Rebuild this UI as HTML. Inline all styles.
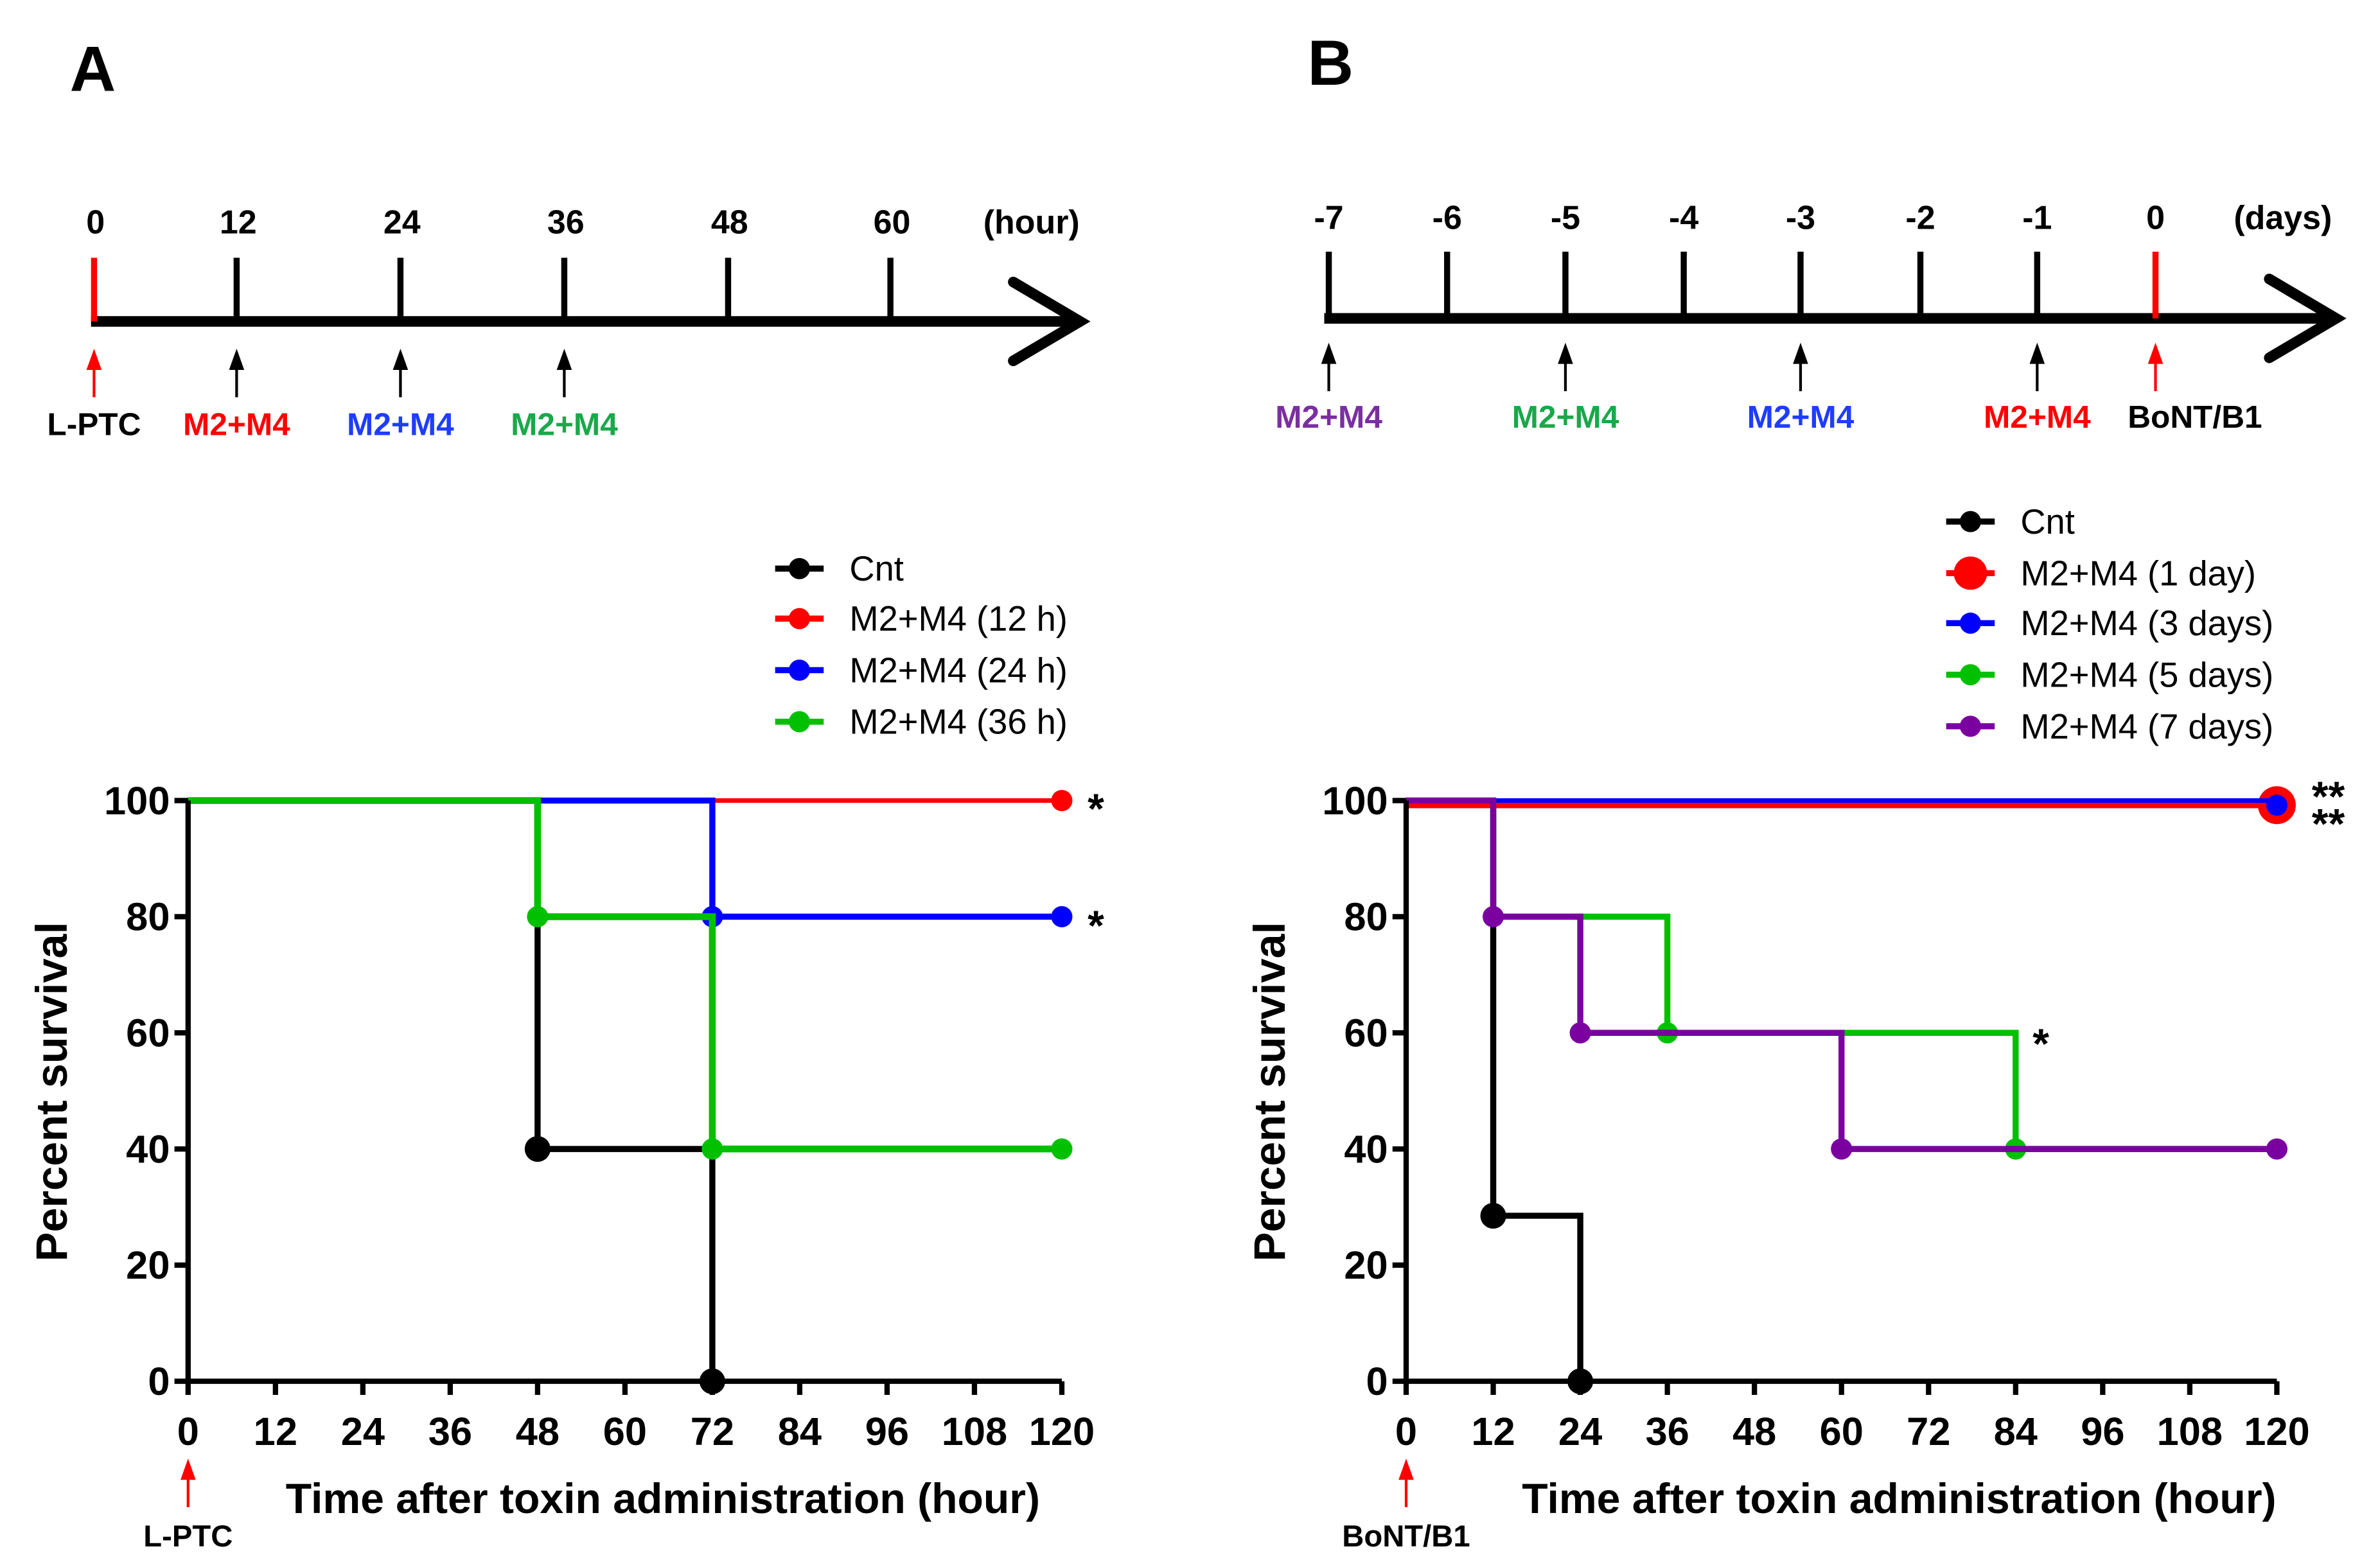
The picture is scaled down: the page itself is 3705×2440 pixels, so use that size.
<!DOCTYPE html>
<html><head><meta charset="utf-8"><style>
html,body{margin:0;padding:0;background:#fff}
svg{display:block}
text{font-family:"Liberation Sans",Arial,sans-serif;font-weight:bold}
</style></head><body>
<svg id="fig" width="3705" height="2440" viewBox="0 0 1569 1033.5" preserveAspectRatio="none" xmlns="http://www.w3.org/2000/svg">
<text x="46" y="60" font-size="42">A</text>
<text x="862" y="56" font-size="42">B</text>
<g id="gA"></g>
<g id="gB"></g>
</svg>
<script>
const NS='http://www.w3.org/2000/svg';
// ---- data ----
const xTicks=[0,12,24,36,48,60,72,84,96,108,120];
const yTicks=[0,20,40,60,80,100];
const tlA=['0','12','24','36','48','60'];
const tlB=['-7','-6','-5','-4','-3','-2','-1','0'];
// Panel A step series: times and survival values
const aCntT=[0,48,72], aCntV=[100,40,0];
const aR12T=[0,120], aR12V=[100,100];
const aB24T=[0,72,120], aB24V=[100,80,80];
const aG36T=[0,48,72,120], aG36V=[100,80,40,40];
// Panel B
const bCntT=[0,12,24], bCntV=[100,28.5,0];
const bD1T=[0,120], bD1V=[99.2,99.2];
const bD3T=[0,120], bD3V=[100,100];
const bD5T=[0,12,36,84,120], bD5V=[100,80,60,40,40];
const bD7T=[0,12,24,60,120], bD7V=[100,80,60,40,40];

function el(p,tag,attrs,txt){const e=document.createElementNS(NS,tag);for(const k in attrs)e.setAttribute(k,attrs[k]);if(txt!==undefined)e.textContent=txt;p.appendChild(e);return e;}

function chart(g,x0,x1,series,stars){
  const y0=911,y1=528;
  const X=t=>x0+(x1-x0)*t/120, Y=v=>y0+(y1-y0)*v/100;
  series.forEach(s=>{
    let d='M'+X(s.t[0])+','+Y(s.v[0]);
    for(let i=1;i<s.t.length;i++){d+=' H'+X(s.t[i])+' V'+Y(s.v[i]);}
    const p=el(g,'path',{d:d,fill:'none',stroke:s.c,'stroke-width':s.w||4});
    
    
    s.m.forEach(i=>{
      const c=el(g,'circle',{cx:X(s.t[i]),cy:Y(s.v[i]),r:s.r||7,fill:s.c});
      
      
      if(s.inner){const c2=el(g,'circle',{cx:X(s.t[i]),cy:Y(s.v[i]),r:7,fill:s.inner});
        
        }
    });
  });
  const ax=el(g,'path',{d:`M${x0},${y1} V${y0} H${x1}`,fill:'none',stroke:'#000','stroke-width':3.5});
  
  
  yTicks.forEach(v=>{
    el(g,'line',{x1:x0-9,x2:x0,y1:Y(v),y2:Y(v),stroke:'#000','stroke-width':3.5});
    const t=el(g,'text',{x:x0-12,y:Y(v)+9,'font-size':26,'text-anchor':'end'},String(v));
    
    
  });
  xTicks.forEach(v=>{
    el(g,'line',{x1:X(v),x2:X(v),y1:y0,y2:y0+9,stroke:'#000','stroke-width':3.5});
    const t=el(g,'text',{x:X(v),y:y0+42,'font-size':26,'text-anchor':'middle'},String(v));
    
    
  });
  stars.forEach(s=>{const t=el(g,'text',{x:s[0],y:s[1],'font-size':28},s[2]);
    
    });
  const yt=el(g,'text',{x:0,y:0,'font-size':29,'text-anchor':'middle',transform:`translate(${x0-80},720) rotate(-90)`},'Percent survival');
  
  
}

function arrow(g,x,yTop,yBot,c){
  el(g,'line',{x1:x,x2:x,y1:yTop+12,y2:yBot,stroke:c,'stroke-width':1.8});
  el(g,'polygon',{points:`${x-5},${yTop+14} ${x},${yTop} ${x+5},${yTop+14}`,fill:c});
}

function legend(g,x,ys,items){
  items.forEach((it,i)=>{
    el(g,'line',{x1:x-16,x2:x+16,y1:ys[i],y2:ys[i],stroke:it.c,'stroke-width':4});
    el(g,'circle',{cx:x,cy:ys[i],r:it.r||7,fill:it.c});
    const t=el(g,'text',{x:x+33,y:ys[i]+8,'font-size':23,style:'font-weight:normal'},it.l);
    
    
  });
}

const gA=document.getElementById('gA'), gB=document.getElementById('gB');
(function(){
  const xs=[62,156,264,372,480,587];
  el(gA,'line',{x1:60,x2:710,y1:212,y2:212,stroke:'#000','stroke-width':7});
  el(gA,'polyline',{points:'668,186 712,212 668,238',fill:'none',stroke:'#000','stroke-width':7,'stroke-linecap':'round'});
  xs.forEach((x,i)=>{el(gA,'line',{x1:x,x2:x,y1:170,y2:212,stroke:i==0?'#f00':'#000','stroke-width':4});
    const t=el(gA,'text',{x:x+1,y:154,'font-size':22,'text-anchor':'middle'},tlA[i]);
    
    });
  el(gA,'text',{x:680,y:154,'font-size':22,'text-anchor':'middle'},'(hour)');
  const ar=[[62,'#f00','L-PTC','#000'],[156,'#000','M2+M4','#f00'],[264,'#000','M2+M4','#1f3cff'],[372,'#000','M2+M4','#1aa84a']];
  ar.forEach(a=>{arrow(gA,a[0],230,262,a[1]);el(gA,'text',{x:a[0],y:287,'font-size':21,'text-anchor':'middle',fill:a[3]},a[2]);});
})();
(function(){
  const xs=[876,954,1032,1110,1187,1266,1343,1421];
  el(gB,'line',{x1:873,x2:1538,y1:210,y2:210,stroke:'#000','stroke-width':7});
  el(gB,'polyline',{points:'1496,184 1540,210 1496,236',fill:'none',stroke:'#000','stroke-width':7,'stroke-linecap':'round'});
  xs.forEach((x,i)=>{el(gB,'line',{x1:x,x2:x,y1:166,y2:210,stroke:i==7?'#f00':'#000','stroke-width':4});
    const t=el(gB,'text',{x:x,y:151,'font-size':22,'text-anchor':'middle'},tlB[i]);
    
    });
  el(gB,'text',{x:1505,y:151,'font-size':22,'text-anchor':'middle'},'(days)');
  const ar=[[876,'#000','M2+M4','#7a2fa0'],[1032,'#000','M2+M4','#1aa84a'],[1187,'#000','M2+M4','#1f3cff'],[1343,'#000','M2+M4','#f00'],[1421,'#f00','BoNT/B1','#000']];
  ar.forEach(a=>{arrow(gB,a[0],226,258,a[1]);el(gB,'text',{x:a[0]+(a[2]=='BoNT/B1'?26:0),y:282,'font-size':21,'text-anchor':'middle',fill:a[3]},a[2]);});
})();

legend(gA,527,[375,408,442,476],[{c:'#000',l:'Cnt'},{c:'#f00',l:'M2+M4 (12 h)'},{c:'#00f',l:'M2+M4 (24 h)'},{c:'#00c000',l:'M2+M4 (36 h)'}]);
legend(gB,1299,[344,378,411,445,479],[{c:'#000',l:'Cnt'},{c:'#f00',l:'M2+M4 (1 day)',r:11},{c:'#00f',l:'M2+M4 (3 days)'},{c:'#00c000',l:'M2+M4 (5 days)'},{c:'#7b00a0',l:'M2+M4 (7 days)'}]);

chart(gA,124,700,[
  {n:'cnt',t:aCntT,v:aCntV,c:'#000',m:[1,2],r:8.5},
  {n:'m12h',t:aR12T,v:aR12V,c:'#f00',m:[1],w:3},
  {n:'m24h',t:aB24T,v:aB24V,c:'#00f',m:[1,2]},
  {n:'m36h',t:aG36T,v:aG36V,c:'#00c000',m:[1,2,3],w:4.5}
],[[717,543,'*'],[717,620,'*']]);
chart(gB,927,1501,[
  {n:'cnt',t:bCntT,v:bCntV,c:'#000',m:[1,2],r:8.5},
  {n:'d1',t:bD1T,v:bD1V,c:'#f00',m:[1],r:12.5,inner:'#00f'},
  {n:'d3',t:bD3T,v:bD3V,c:'#00f',m:[],w:3},
  {n:'d5',t:bD5T,v:bD5V,c:'#00c000',m:[2,3]},
  {n:'d7',t:bD7T,v:bD7V,c:'#7b00a0',m:[1,2,3,4]}
],[[1524,535,'**'],[1524,553,'**'],[1340,698,'*']]);

[[124,'L-PTC','A',437],[927,'BoNT/B1','B',1252]].forEach(a=>{
  const g=a[2]=='A'?gA:gB;
  arrow(g,a[0],962,994,'#f00');
  el(g,'text',{x:a[0],y:1020,'font-size':20,'text-anchor':'middle'},a[1]);
  const t=el(g,'text',{x:a[3],y:998,'font-size':28,'text-anchor':'middle'},'Time after toxin administration (hour)');
  
  
});
</script>
</body></html>
